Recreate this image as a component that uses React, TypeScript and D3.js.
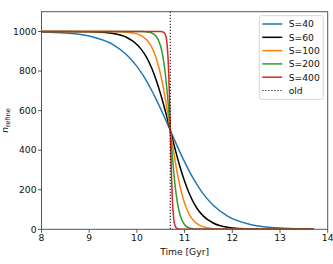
import * as d3 from "d3";

// Time grid [Gyr] the curves were read at
const times = [
  8, 8.5, 9, 9.5, 9.8, 10, 10.1, 10.2, 10.3, 10.4, 10.5, 10.55, 10.6, 10.63,
  10.66, 10.68, 10.7, 10.72, 10.74, 10.77, 10.8, 10.85, 10.9, 11, 11.1, 11.2,
  11.3, 11.4, 11.6, 11.9, 12.4, 12.9, 13.4, 13.7,
];

const s40 = [
  997.4, 992.2, 976.8, 933.4, 878.7, 823.5, 789.2, 750.3, 706.8, 659.3, 608.3,
  581.8, 554.8, 538.5, 522.0, 511.0, 500, 489.0, 478.0, 461.5, 445.2, 418.2,
  391.7, 340.7, 293.2, 249.7, 210.8, 176.5, 121.3, 66.6, 23.2, 7.8, 2.6, 1.4,
];
const s60 = [
  1000, 999.8, 998.4, 989.6, 968.3, 934.6, 907.2, 869.9, 820.5, 757.7, 681.4,
  638.8, 593.9, 566.1, 537.9, 519.0, 500, 481.0, 462.1, 433.9, 406.1, 361.2,
  318.6, 242.3, 179.5, 130.1, 92.8, 65.4, 31.7, 10.4, 1.6, 0.2, 0, 0,
];
const s100 = [
  1000, 1000, 1000, 999.5, 996.6, 988.0, 977.7, 958.9, 925.5, 868.7, 779.0,
  720.1, 652.5, 608.5, 562.7, 531.5, 500, 468.5, 437.3, 391.5, 347.5, 279.9,
  221.0, 131.3, 74.5, 41.1, 22.3, 12.0, 3.4, 0.5, 0, 0, 0, 0,
];
const s200 = [
  1000, 1000, 1000, 1000, 1000, 999.8, 999.4, 998.1, 993.3, 977.0, 924.1,
  867.0, 777.3, 705.8, 622.5, 562.2, 500, 437.8, 377.5, 294.2, 222.7, 133.0,
  75.9, 23.0, 6.7, 1.9, 0.6, 0.2, 0, 0, 0, 0, 0, 0,
];
const s400 = [
  1000, 1000, 1000, 1000, 1000, 1000, 1000, 1000, 1000, 1000, 999.7, 997.5,
  982.0, 942.7, 832.0, 690.0, 500, 310.0, 168.0, 57.3, 18.0, 2.5, 0.3, 0, 0,
  0, 0, 0, 0, 0, 0, 0, 0, 0,
];

const oldTimes = [10.7, 10.7, 13.7];
const oldValues = [1100, 0, 0];

const seriesLabels = ["S=40", "S=60", "S=100", "S=200", "S=400"];
const seriesColors = ["#1f77b4", "#000000", "#ff7f0e", "#2ca02c", "#d62728"];
const seriesValues = [s40, s60, s100, s200, s400];

const xTicks = [8, 9, 10, 11, 12, 13, 14];
const yTicks = [0, 200, 400, 600, 800, 1000];

const W = 333;
const H = 264;
const M = { left: 41.5, right: 327.7, top: 11.7, bottom: 229.3 };
const FONT = "DejaVu Sans, sans-serif";

export default function App() {
  const x = d3.scaleLinear().domain([8, 14]).range([M.left, M.right]);
  const y = d3.scaleLinear().domain([0, 1100]).range([M.bottom, M.top]);

  const line = d3
    .line<[number, number]>()
    .x((d) => x(d[0]))
    .y((d) => y(d[1]))
    .curve(d3.curveMonotoneX);

  const stepLine = d3
    .line<[number, number]>()
    .x((d) => x(d[0]))
    .y((d) => y(d[1]));

  const axisColor = "#555";
  const legendX = 259.3;
  const legendY = 15.7;
  const rowH = 13.3;

  return (
    <svg
      width={W}
      height={H}
      style={{ position: "absolute", left: 0, top: 0, background: "white" }}
      fontFamily={FONT}
    >
      <defs>
        <clipPath id="plot-clip">
          <rect
            x={M.left}
            y={M.top}
            width={M.right - M.left}
            height={M.bottom - M.top}
          />
        </clipPath>
      </defs>

      <g clipPath="url(#plot-clip)">
        {seriesValues.map((vals, i) => (
          <path
            key={seriesLabels[i]}
            d={line(times.map((t, j) => [t, vals[j]] as [number, number]))!}
            fill="none"
            stroke={seriesColors[i]}
            strokeWidth={1.5}
          />
        ))}
        <path
          d={stepLine(oldTimes.map((t, j) => [t, oldValues[j]] as [number, number]))!}
          fill="none"
          stroke="#000"
          strokeWidth={1.2}
          strokeDasharray="1.2,1.8"
          opacity={0.85}
        />
      </g>

      {/* axes frame */}
      <rect
        x={M.left}
        y={M.top}
        width={M.right - M.left}
        height={M.bottom - M.top}
        fill="none"
        stroke={axisColor}
        strokeWidth={1}
      />

      {/* x ticks */}
      {xTicks.map((t) => (
        <g key={"x" + t}>
          <line
            x1={x(t)}
            x2={x(t)}
            y1={M.bottom}
            y2={M.bottom + 3.5}
            stroke={axisColor}
            strokeWidth={1}
          />
          <text
            x={x(t)}
            y={M.bottom + 11.2}
            textAnchor="middle"
            fontSize={9.2}
            fill="#111"
          >
            {t}
          </text>
        </g>
      ))}

      {/* y ticks */}
      {yTicks.map((v) => (
        <g key={"y" + v}>
          <line
            x1={M.left - 3.5}
            x2={M.left}
            y1={y(v)}
            y2={y(v)}
            stroke={axisColor}
            strokeWidth={1}
          />
          <text
            x={M.left - 5}
            y={y(v) + 3.3}
            textAnchor="end"
            fontSize={9.2}
            fill="#111"
          >
            {v}
          </text>
        </g>
      ))}

      <text
        x={(M.left + M.right) / 2}
        y={254.5}
        textAnchor="middle"
        fontSize={9.2}
        fill="#111"
      >
        Time [Gyr]
      </text>

      <text
        transform={`translate(7.8,${(M.top + M.bottom) / 2}) rotate(-90)`}
        textAnchor="middle"
        fontSize={9.2}
        fill="#111"
      >
        <tspan fontStyle="italic">n</tspan>
        <tspan fontSize={6.5} dy={2}>
          refine
        </tspan>
      </text>

      {/* legend */}
      <rect
        x={legendX}
        y={legendY}
        width={64}
        height={83.6}
        rx={2}
        fill="white"
        fillOpacity={0.8}
        stroke="#cccccc"
        strokeWidth={0.8}
      />
      {seriesLabels.map((lab, i) => (
        <g key={"lg" + lab}>
          <line
            x1={262.3}
            x2={282.3}
            y1={legendY + 8.3 + i * rowH}
            y2={legendY + 8.3 + i * rowH}
            stroke={seriesColors[i]}
            strokeWidth={1.5}
          />
          <text
            x={288.7}
            y={legendY + 8.3 + i * rowH + 3.3}
            fontSize={9.2}
            fill="#111"
          >
            {lab}
          </text>
        </g>
      ))}
      <line
        x1={262.3}
        x2={282.3}
        y1={legendY + 8.3 + 5 * rowH}
        y2={legendY + 8.3 + 5 * rowH}
        stroke="#000"
        strokeWidth={1.2}
        strokeDasharray="1.2,1.8"
        opacity={0.85}
      />
      <text
        x={288.7}
        y={legendY + 8.3 + 5 * rowH + 3.3}
        fontSize={9.2}
        fill="#111"
      >
        old
      </text>
    </svg>
  );
}
